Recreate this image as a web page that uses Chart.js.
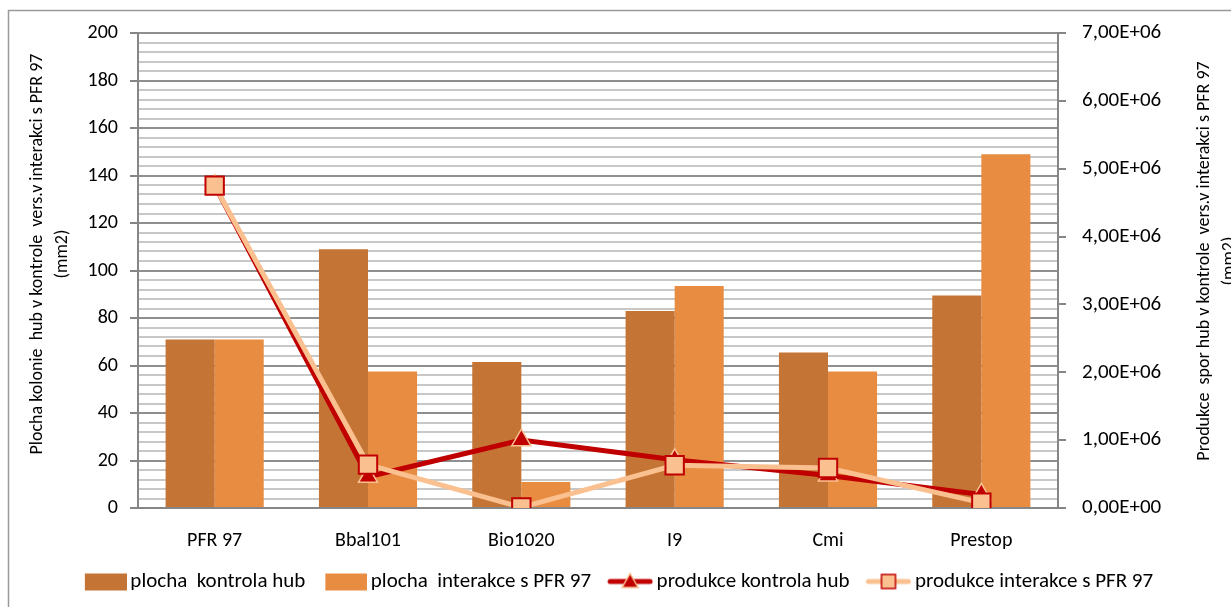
<!DOCTYPE html>
<html>
<head>
<meta charset="utf-8">
<title>Plocha kolonie a produkce spor</title>
<script src="https://cdn.jsdelivr.net/npm/chart.js@4.4.0/dist/chart.umd.min.js"></script>
<style>
  html, body { margin: 0; padding: 0; background: #fff; }
  #wrap { position: relative; width: 1231px; height: 607px; overflow: hidden; }
</style>
</head>
<body>
<div id="wrap"><canvas id="sporeChart" width="1231" height="607"></canvas></div>
<script>
const categories = ["PFR 97", "Bbal101", "Bio1020", "I9", "Cmi", "Prestop"];

// plocha kolonie (mm2) - levá osa
const plochaKontrola = [71, 109, 61.5, 83, 65.5, 89.5];
const plochaInterakce = [71, 57.5, 11, 93.5, 57.5, 149];

// produkce spor - pravá osa
const produkceKontrola = [4750000, 460000, 1000000, 710000, 480000, 200000];
const produkceInterakce = [4750000, 640000, 10000, 630000, 590000, 80000];

const plochaTicks = [0, 20, 40, 60, 80, 100, 120, 140, 160, 180, 200];
const produkceTicks = [0, 1000000, 2000000, 3000000, 4000000, 5000000, 6000000, 7000000];

const leftTitle = ["Plocha kolonie  hub v kontrole  vers.v interakci s PFR 97", "(mm2)"];
const rightTitle = ["Produkce  spor hub v kontrole  vers.v interakci s PFR 97", "(mm2)"];

const FONT = "Carlito, Lato, sans-serif";
const DARK_RED = "#C00000";
const PEACH = "#FAC090";
const BROWN = "#C47535";
const ORANGE = "#E88C42";
const AXIS = "#868686";

const LEGEND_FONT = 21;
const ICON_SLOT = 42;

Chart.defaults.font.family = FONT;
Chart.defaults.color = "#000";

function sci(v) {
  if (v === 0) return "0,00E+00";
  const exp = Math.floor(Math.log10(v));
  const m = v / Math.pow(10, exp);
  return m.toFixed(2).replace(".", ",") + "E+" + String(exp).padStart(2, "0");
}

// legend icons: the canvas is wider than the slot so the drawn part sits
// right next to the label text
function iconCanvas() {
  const c = document.createElement("canvas");
  c.width = ICON_SLOT + Math.round(LEGEND_FONT / 2) * 2 - 8;
  c.height = 22;
  return c;
}

function boxIcon(color) {
  const c = iconCanvas();
  const g = c.getContext("2d");
  g.fillStyle = color;
  g.fillRect(c.width - 42, 3, 42, 17);
  return c;
}

function lineIcon(lineColor, marker) {
  const c = iconCanvas();
  const g = c.getContext("2d");
  const x0 = c.width - 45, x1 = c.width - 1, mid = (x0 + x1) / 2;
  g.strokeStyle = lineColor;
  g.lineWidth = 5;
  g.lineCap = "round";
  g.beginPath();
  g.moveTo(x0 + 2, 11);
  g.lineTo(x1 - 2, 11);
  g.stroke();
  g.lineWidth = 1.5;
  if (marker === "triangle") {
    g.fillStyle = DARK_RED;
    g.strokeStyle = PEACH;
    g.beginPath();
    g.moveTo(mid, 3);
    g.lineTo(mid + 8, 17);
    g.lineTo(mid - 8, 17);
    g.closePath();
    g.fill();
    g.stroke();
  } else {
    g.fillStyle = PEACH;
    g.strokeStyle = DARK_RED;
    g.fillRect(mid - 7, 4, 14, 14);
    g.strokeRect(mid - 7, 4, 14, 14);
  }
  return c;
}

const legendIcons = [
  boxIcon(BROWN),
  boxIcon(ORANGE),
  lineIcon(DARK_RED, "triangle"),
  lineIcon(PEACH, "rect")
];

// outer frame of the chart object
const framePlugin = {
  id: "frame",
  beforeDraw(chart) {
    const ctx = chart.ctx;
    ctx.save();
    ctx.strokeStyle = "#9a9a9a";
    ctx.lineWidth = 1.5;
    ctx.beginPath();
    ctx.moveTo(8.5, 700);
    ctx.lineTo(8.5, 10.5);
    ctx.lineTo(1300, 10.5);
    ctx.stroke();
    ctx.restore();
  }
};

// both axis titles read bottom-to-top
const axisTitlesPlugin = {
  id: "axisTitles",
  afterDraw(chart) {
    const ctx = chart.ctx;
    const drawTitle = (lines, x, y, lineGap) => {
      ctx.save();
      ctx.translate(x, y);
      ctx.rotate(-Math.PI / 2);
      ctx.font = "18px " + FONT;
      ctx.fillStyle = "#000";
      ctx.textAlign = "center";
      ctx.textBaseline = "middle";
      lines.forEach((t, i) => ctx.fillText(t, 0, i * lineGap));
      ctx.restore();
    };
    drawTitle(leftTitle, 37, 254, 25);
    drawTitle(rightTitle, 1204, 261, 25);
  }
};

const ctx = document.getElementById("sporeChart").getContext("2d");
const chart = new Chart(ctx, {
  type: "bar",
  data: {
    labels: categories,
    datasets: [
      {
        label: "plocha  kontrola hub",
        data: plochaKontrola,
        backgroundColor: BROWN,
        yAxisID: "yPlocha",
        order: 2,
        categoryPercentage: 0.64,
        barPercentage: 1.0
      },
      {
        label: "plocha  interakce s PFR 97",
        data: plochaInterakce,
        backgroundColor: ORANGE,
        yAxisID: "yPlocha",
        order: 3,
        categoryPercentage: 0.64,
        barPercentage: 1.0
      },
      {
        type: "line",
        label: "produkce kontrola hub",
        data: produkceKontrola,
        borderColor: DARK_RED,
        borderWidth: 5,
        pointStyle: "triangle",
        pointRadius: 11,
        pointBackgroundColor: DARK_RED,
        pointBorderColor: PEACH,
        pointBorderWidth: 1.5,
        yAxisID: "yProdukce",
        order: 1,
        tension: 0
      },
      {
        type: "line",
        label: "produkce interakce s PFR 97",
        data: produkceInterakce,
        borderColor: PEACH,
        borderWidth: 5,
        pointStyle: "rect",
        pointRadius: 13,
        pointBackgroundColor: PEACH,
        pointBorderColor: DARK_RED,
        pointBorderWidth: 2,
        yAxisID: "yProdukce",
        order: 0,
        tension: 0
      }
    ]
  },
  options: {
    responsive: false,
    animation: false,
    layout: { padding: { top: 33, bottom: 5, left: 0, right: 0 } },
    plugins: {
      tooltip: { enabled: false },
      legend: {
        position: "bottom",
        labels: {
          usePointStyle: true,
          pointStyleWidth: ICON_SLOT,
          padding: 13,
          font: { size: LEGEND_FONT },
          color: "#000",
          generateLabels(chart) {
            return chart.data.datasets.map((ds, i) => ({
              text: ds.label,
              pointStyle: legendIcons[i],
              fillStyle: "transparent",
              strokeStyle: "transparent",
              lineWidth: 0,
              hidden: false,
              datasetIndex: i
            }));
          }
        }
      }
    },
    scales: {
      x: {
        grid: { display: false, drawTicks: false },
        border: { display: true, color: AXIS, width: 2 },
        ticks: { padding: 21, font: { size: 20 }, color: "#000" },
        afterFit(scale) { scale.height = 50; }
      },
      yPlocha: {
        type: "linear",
        position: "left",
        min: 0,
        max: 200,
        grid: {
          lineWidth: 2,
          tickLength: 8,
          color: (c) => plochaTicks.includes(c.tick.value) ? "#8f8f8f" : "#c8c8c8",
          tickColor: (c) => plochaTicks.includes(c.tick.value) ? AXIS : "rgba(0,0,0,0)"
        },
        border: { display: true, color: AXIS, width: 2 },
        ticks: {
          stepSize: 4,
          autoSkip: false,
          padding: 12,
          font: { size: 20 },
          color: "#000",
          callback: (v) => plochaTicks.includes(v) ? String(v) : ""
        },
        afterFit(scale) { scale.width = 138; }
      },
      yProdukce: {
        type: "linear",
        position: "right",
        min: 0,
        max: 7000000,
        grid: {
          drawOnChartArea: false,
          lineWidth: 2,
          tickLength: 8,
          tickColor: AXIS
        },
        border: { display: true, color: AXIS, width: 2 },
        ticks: {
          stepSize: 1000000,
          autoSkip: false,
          padding: 16,
          font: { size: 21 },
          color: "#000",
          callback: (v) => produkceTicks.includes(v) ? sci(v) : ""
        },
        afterFit(scale) { scale.width = 173; }
      }
    }
  },
  plugins: [framePlugin, axisTitlesPlugin]
});
</script>
</body>
</html>
